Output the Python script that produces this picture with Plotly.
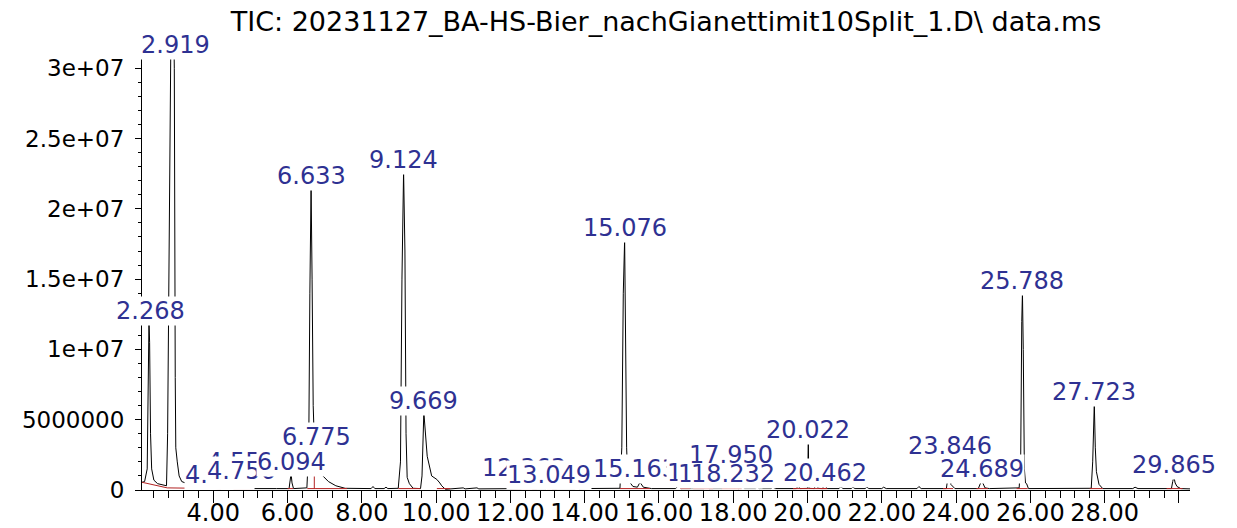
import plotly.graph_objects as go

# ---------------- data ----------------
# Retention time (min) and total ion current (abundance) of the chromatogram
rt_min = [
    2.08, 2.15, 2.22, 2.25, 2.268, 2.285, 2.31, 2.34, 2.40, 2.50, 2.65, 2.74,
    2.77, 2.82, 2.86, 2.919, 2.95, 2.975, 2.99, 3.03, 3.08, 3.15, 3.30, 3.55,
    3.90, 4.05, 4.10, 4.158, 4.22, 4.45, 4.52, 4.559, 4.60, 4.70, 4.756, 4.80,
    5.10, 5.40, 5.70, 6.04, 6.07, 6.094, 6.12, 6.16, 6.52, 6.57, 6.60, 6.633,
    6.66, 6.69, 6.72, 6.75, 6.775, 6.80, 6.85, 6.95, 7.10, 7.30, 7.55, 7.90,
    8.25, 8.30, 8.35, 8.60, 8.65, 8.70, 8.98, 9.04, 9.08, 9.124, 9.16, 9.19,
    9.22, 9.28, 9.38, 9.58, 9.62, 9.669, 9.70, 9.76, 9.88, 10.02, 10.10, 10.15,
    10.25, 10.55, 10.73, 10.78, 11.10, 11.15, 11.70, 12.30, 12.363, 12.45, 12.60,
    12.95, 13.049, 13.12, 13.75, 13.80, 13.86, 14.60, 14.95, 15.00, 15.04, 15.076,
    15.10, 15.13, 15.163, 15.20, 15.30, 15.42, 15.49, 15.58, 15.80, 16.45, 16.52,
    16.60, 17.20, 17.291, 17.35, 17.70, 17.748, 17.80, 17.87, 17.95, 18.02, 18.10,
    18.15, 18.232, 18.30, 18.60, 18.64, 18.70, 19.02, 19.07, 19.12, 19.70, 19.75,
    19.80, 20.00, 20.022, 20.04, 20.18, 20.22, 20.30, 20.40, 20.462, 20.53, 20.85,
    20.90, 20.95, 21.18, 21.22, 21.28, 21.55, 21.60, 21.65, 22.00, 22.05, 22.12,
    22.95, 23.00, 23.06, 23.74, 23.77, 23.83, 23.846, 23.86, 23.97, 24.60, 24.689,
    24.78, 24.90, 25.70, 25.74, 25.77, 25.788, 25.81, 25.84, 25.87, 25.90, 25.95,
    26.60, 26.65, 26.70, 27.00, 27.30, 27.64, 27.68, 27.723, 27.75, 27.78, 27.85,
    27.95, 28.76, 28.82, 28.90, 29.80, 29.835, 29.865, 29.90, 29.95, 30.05, 30.30,
]
tic_abundance = [
    0.55e6, 0.6e6, 1.5e6, 8.0e6, 12.0e6, 10.5e6, 4.0e6, 1.5e6, 0.7e6, 0.45e6, 0.35e6, 0.3e6,
    4.0e6, 20.0e6, 33.0e6, 36.0e6, 30.0e6, 8.0e6, 3.0e6, 2.0e6, 1.0e6, 0.6e6, 0.45e6, 0.3e6,
    0.2e6, 0.18e6, 0.3e6, 0.4e6, 0.15e6, 0.12e6, 0.2e6, 0.4e6, 0.15e6, 0.2e6, 0.53e6, 0.15e6,
    0.1e6, 0.12e6, 0.1e6, 0.1e6, 0.6e6, 1.17e6, 0.5e6, 0.1e6, 0.15e6, 3.0e6, 14.0e6, 21.53e6,
    15.0e6, 6.0e6, 3.5e6, 2.9e6, 2.95e6, 2.0e6, 1.4e6, 1.0e6, 0.6e6, 0.3e6, 0.12e6, 0.1e6,
    0.1e6, 0.25e6, 0.1e6, 0.1e6, 0.2e6, 0.1e6, 0.12e6, 2.0e6, 15.0e6, 22.67e6, 17.0e6, 4.0e6,
    0.9e6, 0.45e6, 0.12e6, 0.1e6, 1.0e6, 5.52e6, 4.3e6, 2.4e6, 1.0e6, 0.75e6, 0.5e6, 0.3e6,
    0.05e6, 0.08e6, 0.15e6, 0.08e6, 0.15e6, 0.08e6, 0.08e6, 0.1e6, 0.4e6, 0.15e6, 0.1e6,
    0.1e6, 0.28e6, 0.1e6, 0.1e6, 0.25e6, 0.1e6, 0.08e6, 0.12e6, 3.0e6, 14.0e6, 17.83e6,
    12.0e6, 3.0e6, 0.5e6, 0.6e6, 0.25e6, 0.2e6, 0.55e6, 0.2e6, 0.1e6, 0.1e6, 0.3e6,
    0.1e6, 0.1e6, 0.25e6, 0.1e6, 0.1e6, 0.3e6, 0.12e6, 0.25e6, 0.35e6, 0.12e6, 0.2e6,
    0.1e6, 0.3e6, 0.1e6, 0.1e6, 0.2e6, 0.1e6, 0.1e6, 0.2e6, 0.1e6, 0.1e6, 0.3e6,
    0.1e6, 0.12e6, 3.45e6, 0.12e6, 0.1e6, 0.35e6, 0.12e6, 0.1e6, 0.36e6, 0.1e6, 0.1e6,
    0.25e6, 0.1e6, 0.1e6, 0.2e6, 0.1e6, 0.1e6, 0.2e6, 0.1e6, 0.1e6, 0.2e6, 0.1e6,
    0.1e6, 0.25e6, 0.1e6, 0.1e6, 0.7e6, 0.5e6, 2.31e6, 0.4e6, 0.1e6, 0.1e6, 0.68e6,
    0.15e6, 0.1e6, 0.15e6, 2.0e6, 12.0e6, 14.06e6, 10.0e6, 1.5e6, 0.5e6, 0.45e6, 0.1e6,
    0.1e6, 0.15e6, 0.1e6, 0.12e6, 0.1e6, 0.12e6, 2.0e6, 6.16e6, 3.0e6, 1.3e6, 0.4e6,
    0.1e6, 0.1e6, 0.2e6, 0.1e6, 0.1e6, 0.6e6, 0.96e6, 0.5e6, 0.25e6, 0.1e6, 0.08e6,
]

# Integration baselines (red): start/end time and start/end abundance
baseline_t0 = [2.08, 2.76, 4.54, 6.00, 6.53, 6.72, 6.74, 8.98, 10.02, 11.99, 12.98, 14.95,
               16.57, 16.92, 17.69, 19.61, 20.35, 23.65, 24.55, 25.63, 27.60, 29.67]
baseline_t1 = [2.76, 4.20, 5.07, 6.15, 6.74, 6.72, 7.60, 9.57, 10.38, 12.71, 13.25, 15.76,
               16.84, 17.46, 18.23, 20.53, 20.52, 23.92, 24.86, 25.93, 27.95, 30.10]
baseline_a0 = [0.55e6, 0.15e6, 0.1e6, 0.1e6, 0.1e6, 0.1e6, 0.1e6, 0.1e6, 0.1e6, 0.1e6, 0.1e6,
               0.1e6, 0.1e6, 0.1e6, 0.1e6, 0.1e6, 0.1e6, 0.1e6, 0.1e6, 0.1e6, 0.1e6, 0.1e6]
baseline_a1 = [0.15e6, 0.1e6, 0.1e6, 0.1e6, 0.1e6, 1.3e6, 0.1e6, 0.1e6, 0.1e6, 0.1e6, 0.1e6,
               0.1e6, 0.1e6, 0.1e6, 0.1e6, 0.1e6, 0.1e6, 0.1e6, 0.1e6, 0.1e6, 0.1e6, 0.1e6]

# Peak labels (retention times as printed) and apex abundances
peak_labels = ["2.268", "2.919", "4.158", "4.559", "4.756", "6.094", "6.633", "6.775",
               "9.124", "9.669", "12.363", "13.049", "15.076", "15.163", "17.291", "17.748",
               "18.232", "20.022", "20.462", "23.846", "24.689", "25.788", "27.723", "29.865",
               "17.950"]
peak_apex = [12.0e6, 36.0e6, 0.4e6, 0.4e6, 0.53e6, 1.17e6, 21.53e6, 2.95e6,
             22.67e6, 5.52e6, 0.4e6, 0.28e6, 17.83e6, 0.5e6, 0.25e6, 0.3e6,
             0.3e6, 3.45e6, 0.36e6, 2.31e6, 0.68e6, 14.06e6, 6.16e6, 0.96e6,
             0.35e6]

# Axis ticks
x_tick_values = [4, 6, 8, 10, 12, 14, 16, 18, 20, 22, 24, 26, 28, 30]
x_tick_labels = ["4.00", "6.00", "8.00", "10.00", "12.00", "14.00", "16.00", "18.00",
                 "20.00", "22.00", "24.00", "26.00", "28.00", ""]
y_tick_values = [0, 5e6, 1e7, 1.5e7, 2e7, 2.5e7, 3e7]
y_tick_labels = ["0", "5000000", "1e+07", "1.5e+07", "2e+07", "2.5e+07", "3e+07"]

title_text = "TIC: 20231127_BA-HS-Bier_nachGianettimit10Split_1.D\\ data.ms"

# ---------------- style ----------------
X_RANGE = [2.08, 30.3]
Y_RANGE = [0, 3.08e7]
FONT = "DejaVu Sans"
LABEL_COLOR = "#2e3192"
RED = "#b22222"
# label pixel offsets (xshift, yshift); default places label just above apex
label_offsets = {"2.268": (2, 10), "2.919": (2, 12), "4.158": (0, 9), "4.559": (7, 22),
                 "12.363": (0, 16), "15.163": (7, 13.5), "17.291": (2, 13),
                 "17.748": (-4, 12), "17.950": (0, 30), "18.232": (-9, 12)}
no_bg_labels = {"17.950"}

fig = go.Figure()
fig.add_trace(go.Scatter(x=rt_min, y=tic_abundance, mode="lines",
                         line=dict(color="black", width=1), hoverinfo="skip",
                         showlegend=False))

bx, by = [], []
for t0, t1, a0, a1 in zip(baseline_t0, baseline_t1, baseline_a0, baseline_a1):
    bx += [t0, t1, None]
    by += [a0, a1, None]
fig.add_trace(go.Scatter(x=bx, y=by, mode="lines", line=dict(color=RED, width=1),
                         hoverinfo="skip", showlegend=False, connectgaps=False))

annotations = []
for lab, apex in zip(peak_labels, peak_apex):
    xs, ys = label_offsets.get(lab, (0, 11.5))
    annotations.append(dict(
        x=float(lab), y=min(apex, Y_RANGE[1]), xref="x", yref="y",
        text=lab, showarrow=False, xanchor="center", yanchor="middle",
        xshift=xs, yshift=ys,
        font=dict(family=FONT, size=24, color=LABEL_COLOR),
        bgcolor="rgba(255,255,255,0)" if lab in no_bg_labels else "white",
        borderpad=0,
    ))

fig.update_layout(
    width=1237, height=528, autosize=False,
    margin=dict(l=142, r=47, t=57, b=38, autoexpand=False),
    paper_bgcolor="white", plot_bgcolor="white",
    title=dict(text=title_text, x=0.5, xref="paper", xanchor="center",
               y=1 - 22 / 528, yref="container", yanchor="middle",
               font=dict(family=FONT, size=27, color="black")),
    annotations=annotations,
    showlegend=False,
)
fig.update_xaxes(
    range=X_RANGE, tickmode="array", tickvals=x_tick_values, ticktext=x_tick_labels,
    tickangle=0, ticks="outside", ticklen=12, tickwidth=1, tickcolor="black",
    ticklabelstandoff=-11,
    showline=True, linecolor="black", linewidth=1, showgrid=False, zeroline=False,
    automargin=False, layer="below traces",
    tickfont=dict(family=FONT, size=24, color="black"),
    minor=dict(tickmode="linear", tick0=0, dtick=0.4, ticks="outside", ticklen=7,
               tickwidth=1, tickcolor="black", showgrid=False),
)
fig.update_yaxes(
    range=Y_RANGE, tickmode="array", tickvals=y_tick_values, ticktext=y_tick_labels,
    ticks="outside", ticklen=6, tickwidth=1, tickcolor="black", ticklabelstandoff=6,
    showline=True, linecolor="black", linewidth=1, showgrid=False, zeroline=False,
    automargin=False,
    tickfont=dict(family=FONT, size=23, color="black"),
    minor=dict(tickmode="linear", tick0=0, dtick=1e6, ticks="outside", ticklen=3,
               tickwidth=1, tickcolor="black", showgrid=False),
)

fig.write_html("out.html", config={"displayModeBar": False},
               post_script="document.body.style.margin='0';")
